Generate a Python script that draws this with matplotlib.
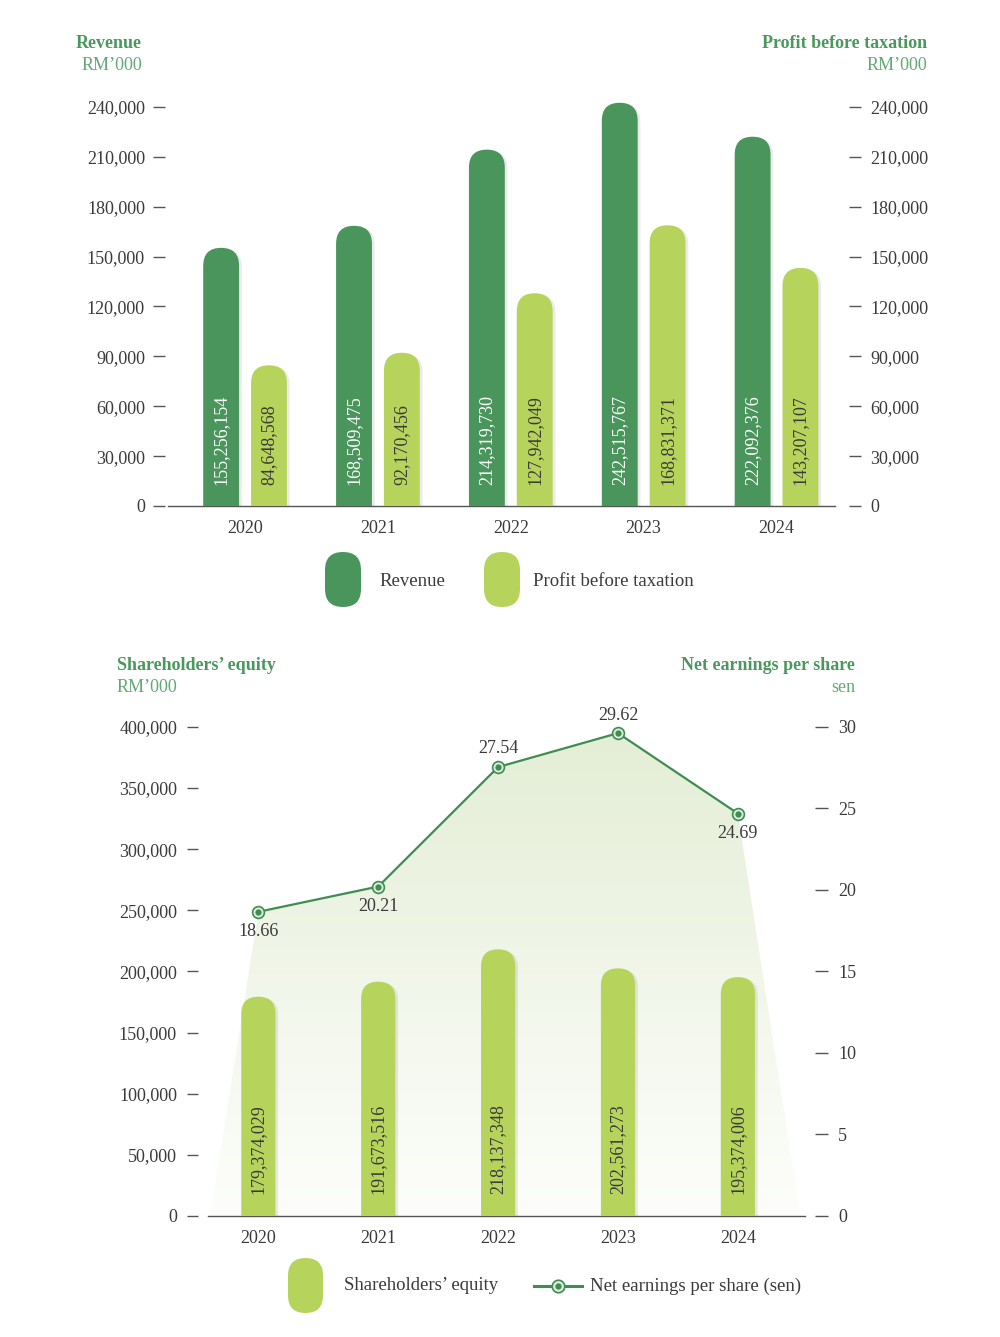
import matplotlib
matplotlib.use('Agg')
import matplotlib.pyplot as plt
import matplotlib.patheffects as pe
import numpy as np
from matplotlib.patches import FancyBboxPatch, Polygon
from matplotlib.lines import Line2D
from matplotlib.colors import LinearSegmentedColormap

# data (RM, sen)
years = ['2020', '2021', '2022', '2023', '2024']
revenue = [155256154, 168509475, 214319730, 242515767, 222092376]
profit = [84648568, 92170456, 127942049, 168831371, 143207107]
equity = [179374029, 191673516, 218137348, 202561273, 195374006]
eps = [18.66, 20.21, 27.54, 29.62, 24.69]
eps_label_pos = ['below', 'below', 'above', 'above', 'below']

top_ticks = list(range(0, 240001, 30000))
bot_ticks = list(range(0, 400001, 50000))
eps_ticks = list(range(0, 31, 5))

DARK = '#4a955c'
LIGHT = '#b6d45c'
LINE = '#3f8d53'
TITLE = '#4a985d'
SUB = '#62a874'
TXT = '#3a3a3a'
AXC = '#555555'

plt.rcParams['font.family'] = ['Liberation Serif', 'DejaVu Serif']

W, H = 1000, 1337
fig = plt.figure(figsize=(W / 100, H / 100), dpi=100)
PT = 0.72  # points per pixel at dpi 100


def fx(x):
    return x / W


def fy(y):
    return 1 - y / H


def round_bar(ax, xc, h, w, color):
    # bar with a semicircular top, built in data units
    x0, x1 = ax.get_xlim()
    y0, y1 = ax.get_ylim()
    bb = ax.get_window_extent()
    r = w / 2
    ry = (r * bb.width / (x1 - x0)) * (y1 - y0) / bb.height
    p = FancyBboxPatch((xc - r, -3 * ry), w, h + 3 * ry,
                       boxstyle='round,pad=0,rounding_size=%f' % r,
                       mutation_aspect=ry / r, fc=color, ec='none', zorder=3)
    p.set_path_effects([pe.SimplePatchShadow(offset=(2, -1), shadow_rgbFace='k', alpha=0.08),
                        pe.Normal()])
    ax.add_patch(p)


def style_axes(ax, axr, lout, llen, lpad, rout, rlen, rpad):
    # all sizes given in pixels
    for s in ['top', 'left', 'right']:
        ax.spines[s].set_visible(False)
    ax.spines['bottom'].set_color(AXC)
    ax.spines['bottom'].set_linewidth(1)
    ax.spines['left'].set_position(('outward', lout * PT))
    ax.tick_params(axis='y', length=llen * PT, width=1, color=AXC, pad=lpad * PT,
                   labelsize=13, labelcolor=TXT)
    ax.tick_params(axis='x', length=0, pad=10, labelsize=13, labelcolor=TXT)
    for s in ['top', 'left', 'bottom']:
        axr.spines[s].set_visible(False)
    axr.spines['right'].set_position(('outward', rout * PT))
    axr.spines['right'].set_visible(False)
    axr.tick_params(axis='y', length=rlen * PT, width=1, color=AXC, pad=rpad * PT,
                    labelsize=13, labelcolor=TXT)


x = np.arange(len(years))

# ---------------- top chart: revenue / profit before taxation
ax1 = fig.add_axes([fx(168), fy(506), fx(835) - fx(168), 424 / H])
ax1.set_xlim(-0.58, 4.44)
ax1.set_ylim(0, 255000)
ax1r = ax1.twinx()
ax1r.set_ylim(0, 255000)
ax1.patch.set_visible(False)

bw = 0.27
for i in range(len(years)):
    round_bar(ax1, x[i] - 0.18, revenue[i] / 1000, bw, DARK)
    round_bar(ax1r, x[i] + 0.18, profit[i] / 1000, bw, LIGHT)
    ax1.annotate('{:,}'.format(revenue[i]), (x[i] - 0.18, 0), xytext=(0, 15),
                 textcoords='offset points', rotation=90, ha='center', va='bottom',
                 fontsize=13, color='white', zorder=5)
    ax1r.annotate('{:,}'.format(profit[i]), (x[i] + 0.18, 0), xytext=(0, 15),
                  textcoords='offset points', rotation=90, ha='center', va='bottom',
                  fontsize=13, color=TXT, zorder=5)

ax1.set_xticks(x)
ax1.set_xticklabels(years)
ax1.set_yticks(top_ticks)
ax1.set_yticklabels(['{:,}'.format(v) for v in top_ticks])
ax1r.set_yticks(top_ticks)
ax1r.set_yticklabels(['{:,}'.format(v) for v in top_ticks])
style_axes(ax1, ax1r, 3, 12, 8, 14, 12, 9)

fig.text(fx(142), fy(44), 'Revenue', ha='right', va='center', fontsize=13,
         fontweight='bold', color=TITLE)
fig.text(fx(142), fy(66), 'RM\u2019000', ha='right', va='center', fontsize=13, color=SUB)
fig.text(fx(927), fy(44), 'Profit before taxation', ha='right', va='center', fontsize=13,
         fontweight='bold', color=TITLE)
fig.text(fx(927), fy(66), 'RM\u2019000', ha='right', va='center', fontsize=13, color=SUB)


def pill(xl, yt, w, h, color):
    p = FancyBboxPatch((xl, H - yt - h), w, h,
                       boxstyle='round,pad=0,rounding_size=%f' % (w / 2),
                       fc=color, ec='none', transform=None)
    fig.add_artist(p)


pill(325, 552, 36, 55, DARK)
fig.text(fx(379), fy(581), 'Revenue', ha='left', va='center', fontsize=13.5, color=TXT)
pill(484, 552, 36, 55, LIGHT)
fig.text(fx(533), fy(581), 'Profit before taxation', ha='left', va='center',
         fontsize=13.5, color=TXT)

# ---------------- bottom chart: shareholders' equity / EPS
ax3 = fig.add_axes([fx(208), fy(1216), fx(805) - fx(208), 513.5 / H])
ax3.set_xlim(-0.42, 4.56)
ax3.set_ylim(0, 420000)
ax4 = ax3.twinx()
ax4.set_ylim(0, 31.5)
ax3.set_zorder(2)
ax4.set_zorder(1)
ax3.patch.set_visible(False)

# gradient area under the EPS line
xl = ax3.get_xlim()
poly = Polygon(np.column_stack([[xl[0] + 0.02] + list(x) + [xl[1] - 0.04],
                                [0] + eps + [0]]), closed=True, fc='none', ec='none')
ax4.add_patch(poly)
cmap = LinearSegmentedColormap.from_list('fillg', ['#fdfefb', '#f1f6e9', '#e4eed6'])
grad = np.linspace(1, 0, 256).reshape(-1, 1)
im = ax4.imshow(grad, extent=[xl[0], xl[1], 0, max(eps)], aspect='auto', cmap=cmap,
                origin='upper', zorder=0)
im.set_clip_path(poly)
ax4.set_xlim(xl)
ax4.set_ylim(0, 31.5)

ax4.plot(x, eps, color=LINE, lw=1.6, zorder=3)
ax4.plot(x, eps, 'o', ms=8.5, mfc='#dcebd8', mec=LINE, mew=1.2, zorder=4)
ax4.plot(x, eps, 'o', ms=4.5, mfc=LINE, mec='none', zorder=5)
for i in range(len(years)):
    off = 13 if eps_label_pos[i] == 'above' else -14.5
    ax4.annotate('{:.2f}'.format(eps[i]), (x[i], eps[i]), xytext=(0, off),
                 textcoords='offset points', ha='center', va='center',
                 fontsize=13, color=TXT, zorder=6)

for i in range(len(years)):
    round_bar(ax3, x[i], equity[i] / 1000, 0.285, LIGHT)
    ax3.annotate('{:,}'.format(equity[i]), (x[i], 0), xytext=(0, 16),
                 textcoords='offset points', rotation=90, ha='center', va='bottom',
                 fontsize=13, color=TXT, zorder=5)

ax3.set_xticks(x)
ax3.set_xticklabels(years)
ax3.set_yticks(bot_ticks)
ax3.set_yticklabels(['{:,}'.format(v) for v in bot_ticks])
ax4.set_yticks(eps_ticks)
ax4.set_yticklabels([str(v) for v in eps_ticks])
style_axes(ax3, ax4, 10, 11, 10, 10, 13, 10)

fig.text(fx(117), fy(665), 'Shareholders\u2019 equity', ha='left', va='center', fontsize=13,
         fontweight='bold', color=TITLE)
fig.text(fx(117), fy(687), 'RM\u2019000', ha='left', va='center', fontsize=13, color=SUB)
fig.text(fx(855), fy(665), 'Net earnings per share', ha='right', va='center', fontsize=13,
         fontweight='bold', color=TITLE)
fig.text(fx(855), fy(687), 'sen', ha='right', va='center', fontsize=13, color=SUB)

pill(288, 1258, 35, 55, LIGHT)
fig.text(fx(344), fy(1286), 'Shareholders\u2019 equity', ha='left', va='center',
         fontsize=13.5, color=TXT)
fig.add_artist(Line2D([fx(534), fx(582)], [fy(1286), fy(1286)], transform=fig.transFigure,
                      color=LINE, lw=2.2))
fig.add_artist(Line2D([fx(558)], [fy(1286)], transform=fig.transFigure, marker='o', ms=9,
                      mfc='#dcebd8', mec=LINE, mew=1.2, ls='none'))
fig.add_artist(Line2D([fx(558)], [fy(1286)], transform=fig.transFigure, marker='o', ms=4.5,
                      mfc=LINE, mec='none', ls='none'))
fig.text(fx(590), fy(1286), 'Net earnings per share (sen)', ha='left', va='center',
         fontsize=13.5, color=TXT)

fig.savefig('out.png', dpi=100, facecolor='white')
